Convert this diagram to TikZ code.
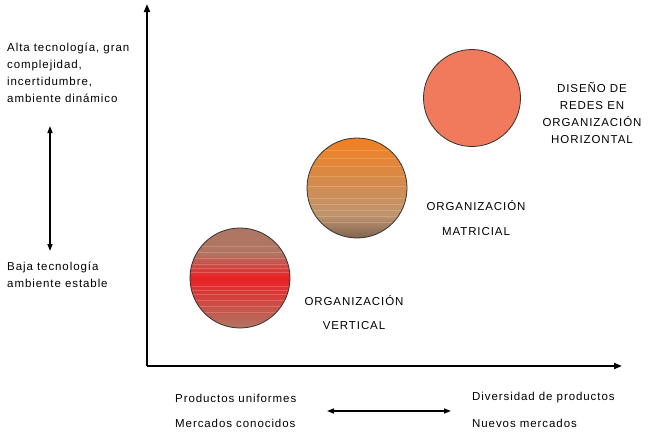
\documentclass[tikz,border=0pt]{standalone}
\usepackage{fontspec}
\setmainfont{Liberation Sans}[LetterSpace=8]
\usetikzlibrary{arrows.meta}
\definecolor{salmon}{RGB}{242,122,92}
\definecolor{brownred}{RGB}{176,118,100}
\definecolor{vred}{RGB}{234,32,36}
\definecolor{orangetop}{RGB}{242,128,32}
\definecolor{tan}{RGB}{190,148,112}
\definecolor{darktan}{RGB}{130,100,80}
\begin{document}
\begin{tikzpicture}[x=1pt,y=-1pt,
  lbl/.style={font=\fontsize{11.5}{14}\selectfont, inner sep=0pt},
  ax/.style={line width=1.8pt,-{Triangle[length=8pt,width=6pt]}},
  dbl/.style={line width=1.4pt,{Triangle[length=7pt,width=5pt]}-{Triangle[length=7pt,width=5pt]}},
  ball/.style={circle, draw=black!80, line width=0.8pt, minimum size=#1, inner sep=0pt}]
\useasboundingbox (0,0) rectangle (653,431);
% axes
\coordinate (O) at (147,366);
\coordinate (ytop) at (147,4);
\coordinate (xend) at (622,366);
\draw[ax] (O) -- (ytop);
\draw[ax] (O) -- (xend);
% circles
\begin{scope}
\clip (240,278) circle (50);
\shade[top color=brownred, bottom color=vred, middle color=brownred] (190,228) rectangle (290,278);
\shade[top color=vred, bottom color=brownred] (190,278) rectangle (290,328);
\foreach \yy in {246,252,258,264,268,272,286,290,294,300,306,312} {\draw[white!70!red, line width=0.4pt, opacity=0.3] (190,\yy) -- (290,\yy);}
\end{scope}
\node[ball=100pt] (c1) at (240,278) {};
\begin{scope}
\clip (357,188) circle (50);
\shade[top color=orangetop, bottom color=tan] (307,138) rectangle (407,215);
\shade[top color=tan, bottom color=darktan] (307,215) rectangle (407,238);
\foreach \yy in {150,158,166,176,186,198,204,210,216,222} {\draw[white!60!orange, line width=0.4pt, opacity=0.3] (307,\yy) -- (407,\yy);}
\end{scope}
\node[ball=100pt] (c2) at (357,188) {};
\node[ball=97pt, fill=salmon] (c3) at (472,98) {};
% left texts
\node[lbl, anchor=north west, align=left, font=\fontsize{11.5}{17}\selectfont] (alta) at (7,43) {Alta tecnología, gran\\complejidad,\\incertidumbre,\\ambiente dinámico};
\node[lbl, anchor=north west, align=left, font=\fontsize{11.5}{17}\selectfont] (baja) at (7,262) {Baja tecnología\\ambiente estable};
\coordinate (va) at (50,126);
\coordinate (vb) at (50,251);
\draw[dbl] (va) -- (vb);
% circle labels
\node[lbl, align=center, font=\fontsize{11.5}{24}\selectfont] (lv) at (354,313) {ORGANIZACIÓN\\VERTICAL};
\node[lbl, align=center, font=\fontsize{11.5}{25}\selectfont] (lm) at (476,218) {ORGANIZACIÓN\\MATRICIAL};
\node[lbl, align=center, font=\fontsize{11.5}{16.7}\selectfont] (lh) at (592,113) {DISEÑO DE\\REDES EN\\ORGANIZACIÓN\\HORIZONTAL};
% bottom texts
\node[lbl, anchor=west] (pu) at (175,398) {Productos uniformes};
\node[lbl, anchor=west] (mc) at (175,423) {Mercados conocidos};
\node[lbl, anchor=west] (dp) at (472,398) {Diversidad de productos};
\node[lbl, anchor=west] (nm) at (472,423) {Nuevos mercados};
\coordinate (ha) at (327,411);
\coordinate (hb) at (451,411);
\draw[dbl] (ha) -- (hb);
\end{tikzpicture}
\end{document}
